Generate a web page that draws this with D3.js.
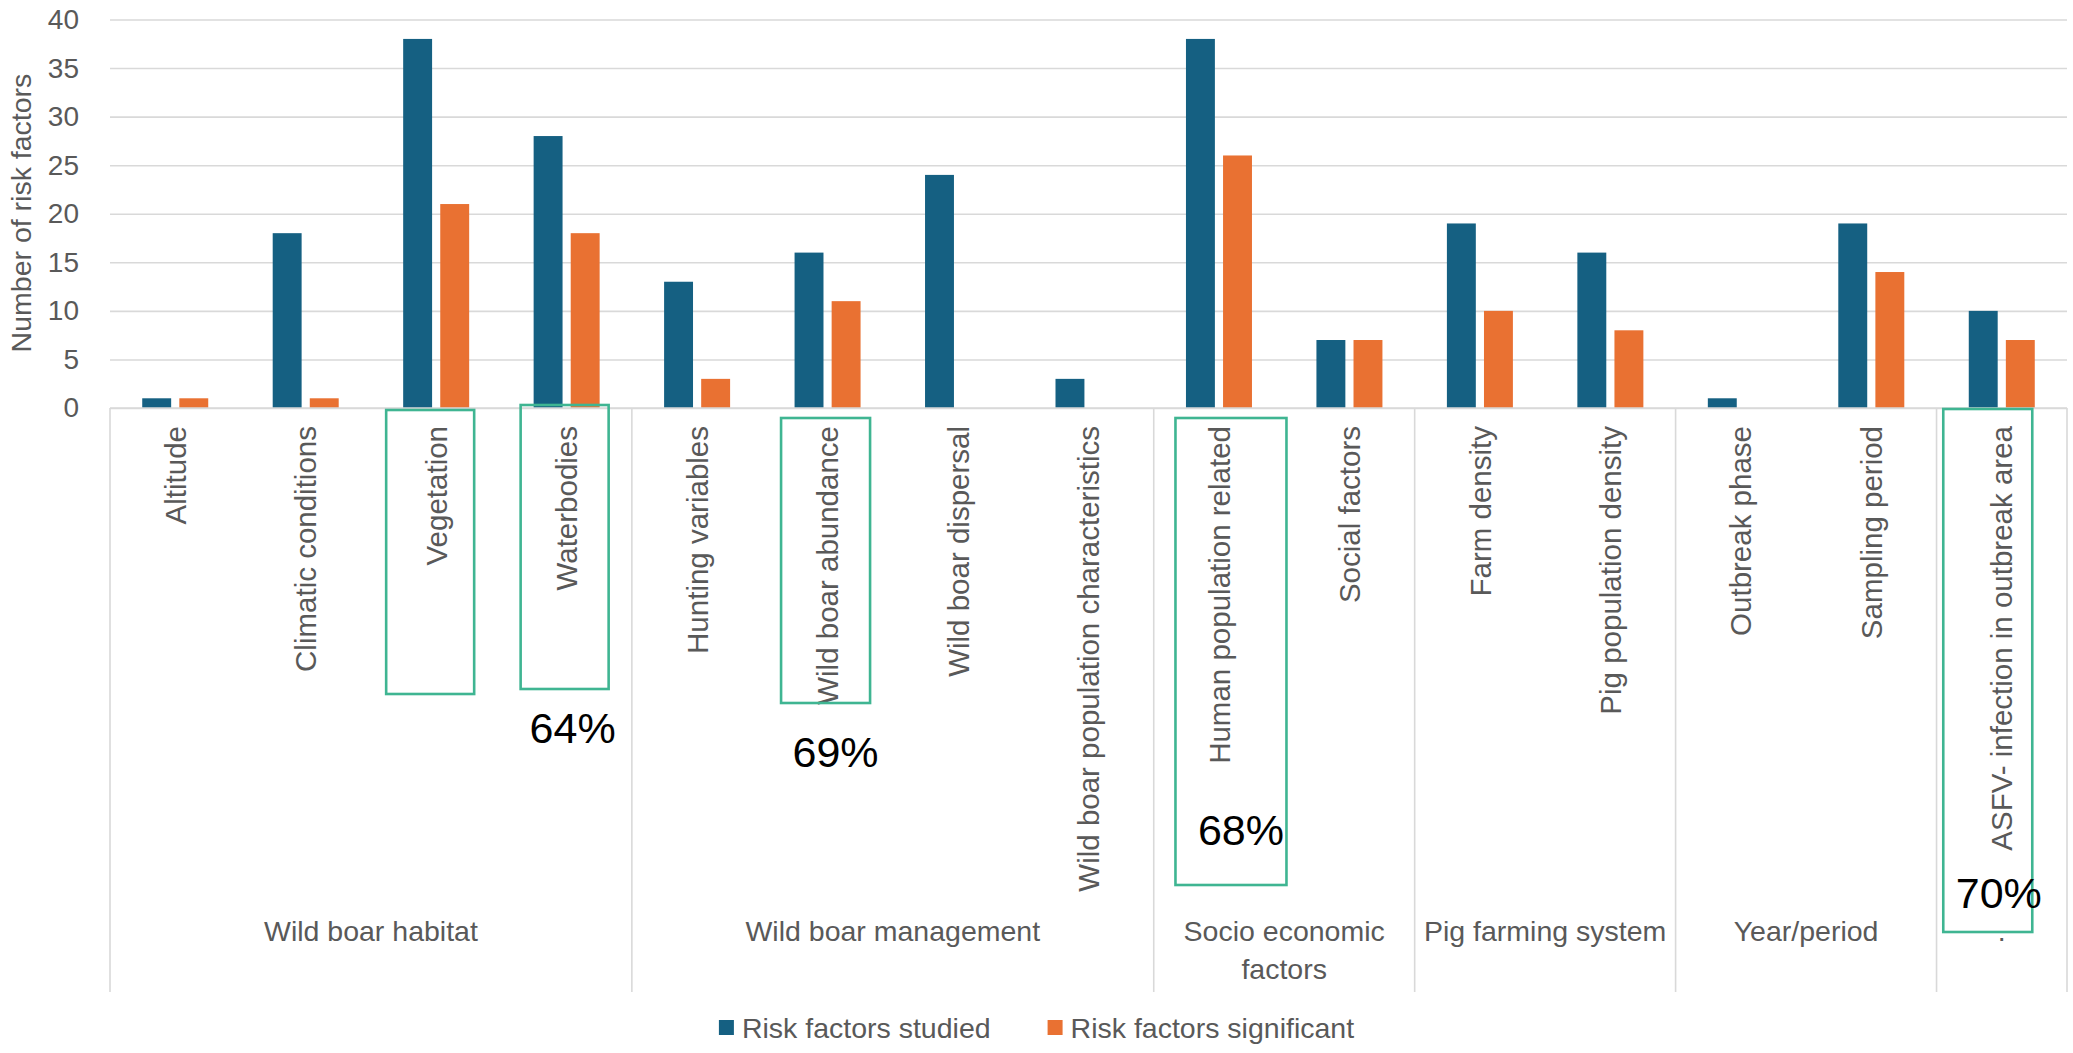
<!DOCTYPE html>
<html>
<head>
<meta charset="utf-8">
<script src="https://cdn.jsdelivr.net/npm/d3@7"></script>
<style>
  body { margin: 0; background: #fff; }
  svg text { font-family: "Liberation Sans", Arial, sans-serif; }
</style>
</head>
<body>
<svg id="chart" width="2073" height="1053"></svg>
<script>
// ---- data ----
var categories = ["Altitude", "Climatic conditions", "Vegetation", "Waterbodies",
  "Hunting variables", "Wild boar abundance", "Wild boar dispersal", "Wild boar population characteristics",
  "Human population related", "Social factors",
  "Farm density", "Pig population density",
  "Outbreak phase", "Sampling period",
  "ASFV- infection in outbreak area"];
var groupNames = ["Wild boar habitat", "Wild boar management", "Socio economic factors",
  "Pig farming system", "Year/period", "."];
var groupSizes = [4, 4, 2, 2, 2, 1];
var series = ["Risk factors studied", "Risk factors significant"];
var studied     = [1, 18, 38, 28, 13, 16, 24, 3, 38, 7, 19, 16, 1, 19, 10];
var significant = [1,  1, 21, 18,  3, 11,  0, 0, 26, 7, 10,  8, 0, 14,  7];
var yTicks = [0, 5, 10, 15, 20, 25, 30, 35, 40];
var colors = ["#156082", "#E97132"];

// categories with a green frame, and those that also show the share significant/studied
var framed = ["Vegetation", "Waterbodies", "Wild boar abundance", "Human population related", "ASFV- infection in outbreak area"];
var withShare = ["Waterbodies", "Wild boar abundance", "Human population related", "ASFV- infection in outbreak area"];

// ---- layout of the hand drawn annotations (offsets from category centre) ----
var frameLayout = {
  "Vegetation": {dx: -6, w: 88, top: 410, bottom: 694},
  "Waterbodies": {dx: -2, w: 88, top: 405, bottom: 689},
  "Wild boar abundance": {dx: -2, w: 89, top: 418, bottom: 703},
  "Human population related": {dx: 12, w: 111, top: 418, bottom: 885},
  "ASFV- infection in outbreak area": {dx: -14, w: 89, top: 409, bottom: 932}
};
var shareLayout = {
  "Waterbodies": {dx: 6, y: 743},
  "Wild boar abundance": {dx: 8, y: 767},
  "Human population related": {dx: 22, y: 845},
  "ASFV- infection in outbreak area": {dx: -3, y: 908}
};

var W = 2073, H = 1053;
var left = 110, right = 2067, topY = 19.5, base = 408, sepBottom = 992;
var grey = "#595959", lineCol = "#d9d9d9", fs = 28.5;

var svg = d3.select("#chart");

var x = d3.scaleBand().domain(categories).range([left, right]).padding(0);
var xs = d3.scaleBand().domain(series).range([-33, 33]).paddingInner(0.22);
var y = d3.scaleLinear().domain([0, 40]).range([base, topY]);

// gridlines + y labels
var yAxis = d3.axisLeft(y).tickValues(yTicks).tickSizeInner(-(right - left)).tickSizeOuter(0).tickPadding(31);
var gy = svg.append("g").attr("transform", "translate(" + left + ",0)").call(yAxis);
gy.select(".domain").remove();
gy.selectAll("line").attr("stroke", lineCol).attr("stroke-width", 1.6);
gy.selectAll("text").attr("fill", grey).attr("font-size", 28).attr("font-family", "Liberation Sans, Arial, sans-serif");

// y title
svg.append("text")
  .attr("transform", "translate(31," + 213 + ") rotate(-90)")
  .attr("text-anchor", "middle")
  .attr("font-size", fs)
  .attr("fill", grey)
  .text("Number of risk factors");

// vertical separators of the grouped category axis
var bounds = [0];
groupSizes.forEach(function(n, i) { bounds.push(bounds[i] + n); });
svg.append("g").selectAll("line")
  .data(bounds)
  .enter().append("line")
  .attr("x1", function(b) { return b < categories.length ? x(categories[b]) : right; })
  .attr("x2", function(b) { return b < categories.length ? x(categories[b]) : right; })
  .attr("y1", base)
  .attr("y2", sepBottom)
  .attr("stroke", lineCol)
  .attr("stroke-width", 1.6);

// bars
var table = categories.map(function(c, i) {
  return {cat: c, vals: [studied[i], significant[i]]};
});
var cg = svg.append("g").selectAll("g")
  .data(table)
  .enter().append("g")
  .attr("transform", function(d) { return "translate(" + (x(d.cat) + x.bandwidth() / 2) + ",0)"; });
cg.selectAll("rect")
  .data(function(d) { return d.vals.map(function(v, k) { return {s: series[k], v: v, k: k}; }); })
  .enter().append("rect")
  .attr("x", function(d) { return xs(d.s); })
  .attr("width", xs.bandwidth())
  .attr("y", function(d) { return y(d.v); })
  .attr("height", function(d) { return base - y(d.v); })
  .attr("fill", function(d) { return colors[d.k]; });

// category labels (rotated)
var xAxis = d3.axisBottom(x).tickSize(0).tickPadding(0);
var gx = svg.append("g").attr("transform", "translate(0," + base + ")").call(xAxis);
gx.select(".domain").remove();
gx.selectAll("text")
  .attr("transform", "rotate(-90)")
  .attr("x", -18)
  .attr("y", 0)
  .attr("dy", "0.36em")
  .attr("text-anchor", "end")
  .attr("font-size", 29.5)
  .attr("font-family", "Liberation Sans, Arial, sans-serif")
  .attr("fill", grey);

// baseline axis line
svg.append("line")
  .attr("x1", left).attr("x2", right)
  .attr("y1", base).attr("y2", base)
  .attr("stroke", lineCol).attr("stroke-width", 1.6);

// group labels, wrapped to the group width
groupNames.forEach(function(name, i) {
  var x0 = x(categories[bounds[i]]);
  var x1 = x(categories[bounds[i + 1] - 1]) + x.bandwidth();
  var t = svg.append("text")
    .attr("x", (x0 + x1) / 2)
    .attr("y", 941)
    .attr("text-anchor", "middle")
    .attr("font-size", fs)
    .attr("fill", grey);
  var words = name.split(" "), line = [];
  var ts = t.append("tspan").attr("x", (x0 + x1) / 2).attr("dy", 0);
  words.forEach(function(w) {
    line.push(w);
    ts.text(line.join(" "));
    if (ts.node().getComputedTextLength() > (x1 - x0) - 8 && line.length > 1) {
      line.pop();
      ts.text(line.join(" "));
      line = [w];
      ts = t.append("tspan").attr("x", (x0 + x1) / 2).attr("dy", 38).text(w);
    }
  });
});

// green frames
svg.append("g").selectAll("rect")
  .data(framed)
  .enter().append("rect")
  .attr("x", function(c) { var f = frameLayout[c]; return x(c) + x.bandwidth() / 2 + f.dx - f.w / 2; })
  .attr("y", function(c) { return frameLayout[c].top; })
  .attr("width", function(c) { return frameLayout[c].w; })
  .attr("height", function(c) { return frameLayout[c].bottom - frameLayout[c].top; })
  .attr("fill", "none")
  .attr("stroke", "#3FB592")
  .attr("stroke-width", 2.6);

// share significant / studied
svg.append("g").selectAll("text")
  .data(withShare)
  .enter().append("text")
  .attr("x", function(c) { return x(c) + x.bandwidth() / 2 + shareLayout[c].dx; })
  .attr("y", function(c) { return shareLayout[c].y; })
  .attr("text-anchor", "middle")
  .attr("font-size", 43)
  .attr("fill", "#000")
  .text(function(c) {
    var i = categories.indexOf(c);
    return Math.round(significant[i] / studied[i] * 100) + "%";
  });

// legend, centred on the page
var leg = svg.append("g");
var items = leg.selectAll("g").data(series).enter().append("g");
items.append("rect")
  .attr("width", 15).attr("height", 15)
  .attr("y", 1020)
  .attr("fill", function(d, i) { return colors[i]; });
items.append("text")
  .attr("x", 23)
  .attr("y", 1038)
  .attr("font-size", fs)
  .attr("fill", grey)
  .text(function(d) { return d; });
var pos = 0, widths = [];
items.each(function() { widths.push(d3.select(this).select("text").node().getComputedTextLength() + 23); });
var total = d3.sum(widths) + 57 * (widths.length - 1);
pos = W / 2 - total / 2;
items.attr("transform", function(d, i) {
  var p = pos;
  pos += widths[i] + 57;
  return "translate(" + p + ",0)";
});
</script>
</body>
</html>
